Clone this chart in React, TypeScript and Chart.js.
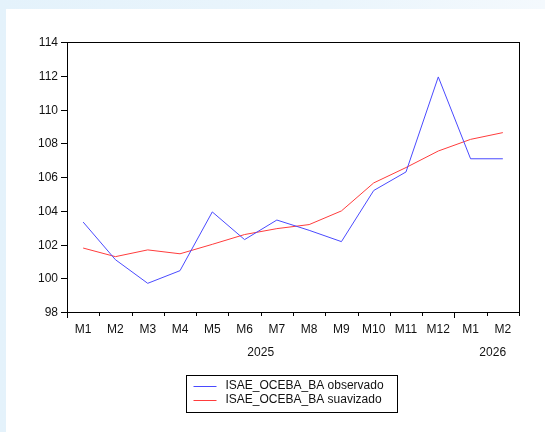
import React, { useEffect, useRef } from "react";
import { Chart, registerables } from "chart.js";
Chart.register(...registerables);

const months = ["M1", "M2", "M3", "M4", "M5", "M6", "M7", "M8", "M9", "M10", "M11", "M12", "M1", "M2"];
const years = ["2025", "2026"];
const yearStart = [0, 12];
const observed = [103.33, 101.1, 99.7, 100.45, 103.93, 102.29, 103.45, 102.84, 102.17, 105.2, 106.3, 111.93, 107.08, 107.08];
const smoothed = [101.79, 101.28, 101.68, 101.45, 102.01, 102.59, 102.94, 103.18, 103.99, 105.65, 106.56, 107.54, 108.23, 108.63];
const yTicks = [98, 100, 102, 104, 106, 108, 110, 112, 114];
const seriesLabels = ["ISAE_OCEBA_BA observado", "ISAE_OCEBA_BA suavizado"];
const seriesColors = ["#4a4aff", "#ff3c3c"];

const FONT = "12px 'Liberation Sans', Arial, sans-serif";

const axesPlugin = {
  id: "eviewsAxes",
  afterDraw(chart: any) {
    const { ctx, chartArea } = chart;
    const { left, right, top, bottom } = chartArea;
    const x = chart.scales.x;
    const y = chart.scales.y;
    ctx.save();
    ctx.strokeStyle = "#000";
    ctx.lineWidth = 1;
    // frame
    ctx.strokeRect(Math.round(left) + 0.5, Math.round(top) + 0.5, Math.round(right - left), Math.round(bottom - top));
    ctx.font = FONT;
    ctx.fillStyle = "#111";
    // y ticks
    ctx.textAlign = "right";
    ctx.textBaseline = "middle";
    yTicks.forEach((v) => {
      const py = Math.round(y.getPixelForValue(v)) + 0.5;
      ctx.beginPath();
      ctx.moveTo(left - 6, py);
      ctx.lineTo(left, py);
      ctx.stroke();
      ctx.fillText(String(v), left - 9, py);
    });
    // x ticks
    const n = months.length;
    const w = (right - left) / n;
    for (let i = 0; i <= n; i++) {
      const px = Math.round(left + i * w) + 0.5;
      const long = yearStart.includes(i) || i === 0;
      ctx.beginPath();
      ctx.moveTo(px, bottom);
      ctx.lineTo(px, bottom + (long ? 6 : 4));
      ctx.stroke();
    }
    ctx.textAlign = "center";
    months.forEach((m, i) => {
      ctx.fillText(m, x.getPixelForValue(i), bottom + 18);
    });
    // year labels
    years.forEach((yr, k) => {
      const s = yearStart[k];
      const e = k + 1 < yearStart.length ? yearStart[k + 1] : n;
      let cx = left + ((s + e) / 2) * w;
      if (k === years.length - 1) cx += 6;
      ctx.fillText(yr, cx, bottom + 41);
    });
    // legend
    const bx = Math.round(left + 119) + 0.5;
    const by = Math.round(bottom + 63) + 0.5;
    const bw = 211;
    const bh = 37;
    ctx.strokeStyle = "#000";
    ctx.strokeRect(bx, by, bw, bh);
    ctx.textAlign = "left";
    seriesLabels.forEach((lab, i) => {
      const ly = by + 10 + i * 14;
      ctx.strokeStyle = seriesColors[i];
      ctx.beginPath();
      ctx.moveTo(bx + 7, Math.round(ly) + 0.5);
      ctx.lineTo(bx + 30, Math.round(ly) + 0.5);
      ctx.stroke();
      ctx.fillStyle = "#111";
      ctx.fillText(lab, bx + 39, ly);
    });
    ctx.restore();
  },
};

export default function App() {
  const ref = useRef<HTMLCanvasElement | null>(null);
  useEffect(() => {
    if (!ref.current) return;
    const chart = new Chart(ref.current, {
      type: "line",
      data: {
        labels: months.map((m, i) => `${m}-${i}`),
        datasets: [
          { label: seriesLabels[0], data: observed, borderColor: seriesColors[0], borderWidth: 1, pointRadius: 0, tension: 0, fill: false },
          { label: seriesLabels[1], data: smoothed, borderColor: seriesColors[1], borderWidth: 1, pointRadius: 0, tension: 0, fill: false },
        ],
      },
      options: {
        animation: false,
        responsive: false,
        maintainAspectRatio: false,
        layout: { padding: { left: 61, top: 33, right: 26, bottom: 120 } },
        plugins: { legend: { display: false }, tooltip: { enabled: false } },
        scales: {
          x: { type: "category", display: false, offset: true },
          y: { display: false, min: 98, max: 114 },
        },
      },
      plugins: [axesPlugin],
    });
    return () => chart.destroy();
  }, []);
  return (
    <div style={{ position: "fixed", left: 0, top: 0, width: 545, height: 432, background: "linear-gradient(90deg,#e4f2fb 0%,#eaf5fc 60%,#f4f9fd 100%)", overflow: "hidden" }}>
      <div style={{ position: "absolute", left: 6, top: 9, width: 539, height: 423, background: "#fff" }}>
        <canvas ref={ref} width={539} height={423} style={{ display: "block", width: 539, height: 423 }} />
      </div>
    </div>
  );
}
